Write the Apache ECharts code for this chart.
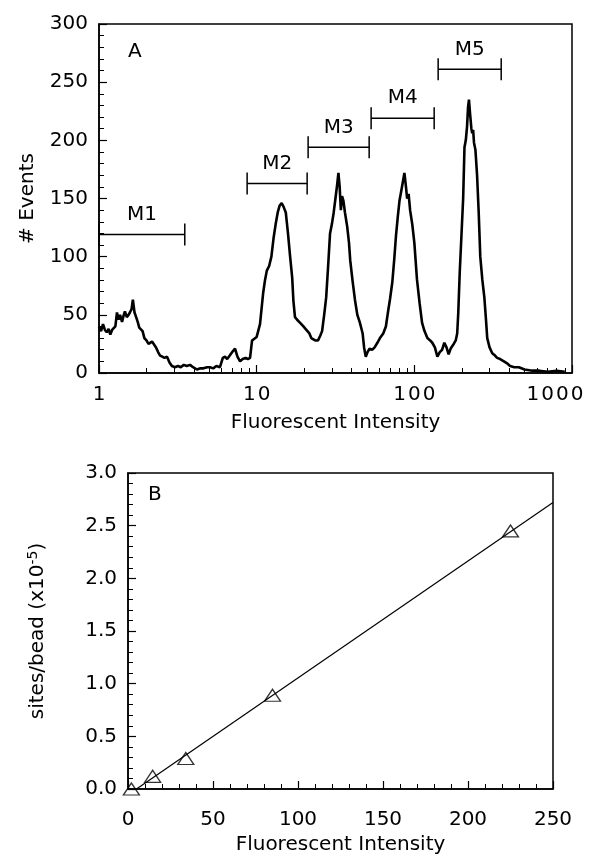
<!DOCTYPE html>
<html>
<head>
<meta charset="utf-8">
<script src="https://cdn.jsdelivr.net/npm/echarts@6/dist/echarts.min.js"></script>
<style>
html,body{margin:0;padding:0;background:#fff;}
#chart{width:592px;height:859px;}
</style>
</head>
<body>
<div id="chart"></div>
<script>
// ---- Panel A: flow cytometry histogram (log x) ----
const histIntensity = [
  1.00,1.03,1.06,1.09,1.12,1.15,1.18,1.21,1.24,1.27,1.30,1.33,1.36,1.40,1.43,1.46,1.50,1.54,1.57,1.61,1.64,1.68,1.72,1.76,1.80,1.84,1.89,1.94,2.00,2.06,2.11,2.17,2.23,2.30,2.37,2.44,2.52,2.60,2.70,2.80,2.90,3.03,3.17,3.30,3.45,3.60,3.78,3.95,4.18,4.40,4.60,4.85,5.06,5.30,5.55,5.85,6.10,6.30,6.50,6.75,7.00,7.29,7.55,7.85,8.15,8.50,8.80,9.08,9.35,9.60,10.0,10.5,11.0,11.3,11.6,12.0,12.4,12.8,13.2,13.6,14.0,14.4,14.8,15.3,15.8,16.3,16.8,17.1,17.5,18.0,18.6,19.2,19.8,20.4,21.0,21.6,22.2,22.8,23.5,24.5,25.3,26.0,26.8,27.6,28.4,29.2,30.0,30.8,31.6,32.4,33.0,33.6,34.2,34.8,35.5,36.3,37.5,38.5,39.2,40.5,42.0,43.5,45.0,46.2,47.0,48.0,49.2,50.5,52.0,54.0,56.0,58.3,60.5,63.5,66.0,68.0,70.2,72.5,74.5,76.5,78.5,80.5,82.5,84.5,86.5,88.5,90.0,92.0,94.0,97.0,100,104,108,112,116,121,126,130,135,140,145,150,155,160,165,170,176,183,187,190,194,198,204,208,212,216,219,222,226,230,233,236,239,244,250,256,262,270,278,285,290,300,312,325,335,350,370,390,405,430,460,500,560,620,700,800,900
];
const histEvents = [
  40,36,42,37,35,38,33,37,36,40,52,46,50,44,49,53,48,50,52,55,63,52,48,44,39,38,36,30,28,25,24,27,26,22,18,15,14,13,14,9,6,5,6,5,7,6,7,5,3,4,4,5,5,4,6,5,13,14,12,15,18,21,14,10,12,13,12,13,28,27,31,42,69,80,88,92,100,116,128,138,144,146,143,138,120,100,82,62,48,46,44,42,40,38,36,34,30,29,28,28,32,36,50,65,92,120,128,138,150,162,172,160,140,152,148,138,126,112,97,80,63,50,44,38,34,22,14,18,21,20,22,26,30,34,40,52,64,78,97,118,134,148,156,164,172,160,150,154,140,128,112,80,60,43,36,30,28,26,22,14,18,20,26,22,16,21,24,28,34,52,86,112,150,194,200,212,228,235,222,210,206,209,198,192,170,138,100,80,65,45,30,22,17,15,13,12,10,8,6,5,5,3,2,2,1,2,1,1,1
];
const histXTicks = [1, 10, 100, 1000];
// gate markers M1..M5: [left, right, events level]
const markerNames = ['M1', 'M2', 'M3', 'M4', 'M5'];
const markerLeft  = [1.0, 8.7, 21.2, 53.2, 141.6];
const markerRight = [3.5, 20.9, 51.7, 133.6, 355.6];
const markerLevel = [119, 163, 194, 219, 261];

// ---- Panel B: calibration ----
const beadIntensity = [2, 14.5, 34, 85, 225];
const beadSites = [0.0, 0.12, 0.29, 0.89, 2.45];
const fitIntensity = [5, 250];
const fitSites = [0.0, 2.72];

const FONT = '"DejaVu Sans", Verdana, sans-serif';
const chart = echarts.init(document.getElementById('chart'), null, {renderer: 'canvas'});

const markerData = markerNames.map((n, i) => [markerLeft[i], markerRight[i], markerLevel[i]]);
const histData = histIntensity.map((x, i) => [x, histEvents[i]]);
const beadData = beadIntensity.map((x, i) => [x, beadSites[i]]);
const fitData = fitIntensity.map((x, i) => [x, fitSites[i]]);

const axisLineStyle = {lineStyle: {color: '#000', width: 1.5}};
const labelStyle = {color: '#000', fontFamily: FONT, fontSize: 20};
const nameStyle = {color: '#000', fontFamily: FONT, fontSize: 20};

const option = {
  animation: false,
  backgroundColor: '#fff',
  grid: [
    {left: 99, right: 20, top: 24, bottom: 486, show: true, borderColor: '#000', borderWidth: 1.5, backgroundColor: 'transparent'},
    {left: 128, right: 39, top: 473, bottom: 70, show: true, borderColor: '#000', borderWidth: 1.5, backgroundColor: 'transparent'}
  ],
  xAxis: [
    {
      type: 'log', logBase: 10, gridIndex: 0, min: 1, max: 1000,
      name: 'Fluorescent Intensity', nameLocation: 'middle', nameGap: 40, nameTextStyle: nameStyle,
      axisLine: axisLineStyle,
      axisTick: {inside: true, length: 8, lineStyle: {color: '#000', width: 1.2}},
      minorTick: {show: true, splitNumber: 9, length: 5, lineStyle: {color: '#000', width: 1}},
      splitLine: {show: false}, minorSplitLine: {show: false},
      axisLabel: Object.assign({}, labelStyle, {
        margin: 12, showMinLabel: true, showMaxLabel: true,
        formatter: function (v) {
          const s = String(Math.round(v)).split('').join('\u200a');
          return Math.round(v) === histXTicks[histXTicks.length - 1] ? '{last|' + s + '}' : s;
        },
        rich: {last: {fontFamily: FONT, fontSize: 20, color: '#000', padding: [0, 34, 0, 0]}}
      })
    },
    {
      type: 'value', gridIndex: 1, min: 0, max: 250, interval: 50,
      name: 'Fluorescent Intensity', nameLocation: 'middle', nameGap: 46, nameTextStyle: nameStyle,
      axisLine: axisLineStyle,
      axisTick: {inside: true, length: 8, lineStyle: {color: '#000', width: 1.2}},
      minorTick: {show: true, splitNumber: 5, length: 5, lineStyle: {color: '#000', width: 1}},
      splitLine: {show: false},
      axisLabel: Object.assign({}, labelStyle, {margin: 21})
    }
  ],
  yAxis: [
    {
      type: 'value', gridIndex: 0, min: 0, max: 300, interval: 50,
      name: '# Events', nameLocation: 'middle', nameGap: 61, nameTextStyle: nameStyle,
      axisLine: axisLineStyle,
      axisTick: {inside: true, length: 8, lineStyle: {color: '#000', width: 1.2}},
      minorTick: {show: true, splitNumber: 5, length: 5, lineStyle: {color: '#000', width: 1}},
      splitLine: {show: false},
      axisLabel: Object.assign({}, labelStyle, {margin: 11})
    },
    {
      type: 'value', gridIndex: 1, min: 0, max: 3, interval: 0.5,
      name: 'sites/bead (x10{sup|-5})', nameLocation: 'middle', nameGap: 78,
      nameTextStyle: Object.assign({}, nameStyle, {
        rich: {sup: {fontFamily: FONT, fontSize: 14, color: '#000', padding: [0, 0, 10, 0]}}
      }),
      axisLine: axisLineStyle,
      axisTick: {inside: true, length: 8, lineStyle: {color: '#000', width: 1.2}},
      minorTick: {show: true, splitNumber: 5, length: 5, lineStyle: {color: '#000', width: 1}},
      splitLine: {show: false},
      axisLabel: Object.assign({}, labelStyle, {margin: 11, formatter: v => v.toFixed(1)})
    }
  ],
  graphic: [
    {type: 'text', left: 128, top: 42, style: {text: 'A', font: '20px ' + FONT, fill: '#000'}},
    {type: 'text', left: 148, top: 485, style: {text: 'B', font: '20px ' + FONT, fill: '#000'}}
  ],
  series: [
    {
      type: 'line', xAxisIndex: 0, yAxisIndex: 0, data: histData,
      showSymbol: false, symbol: 'none', clip: true,
      lineStyle: {color: '#000', width: 2.6}
    },
    {
      type: 'custom', xAxisIndex: 0, yAxisIndex: 0, data: markerData,
      encode: {x: [0, 1], y: 2},
      renderItem: function (params, api) {
        const l = api.coord([api.value(0), api.value(2)]);
        const r = api.coord([api.value(1), api.value(2)]);
        const st = {stroke: '#000', lineWidth: 1.5};
        return {
          type: 'group',
          children: [
            {type: 'line', shape: {x1: l[0], y1: l[1], x2: r[0], y2: r[1]}, style: st},
            {type: 'line', shape: {x1: l[0], y1: l[1] - 11, x2: l[0], y2: l[1] + 11}, style: st},
            {type: 'line', shape: {x1: r[0], y1: r[1] - 11, x2: r[0], y2: r[1] + 11}, style: st},
            {type: 'text', style: {text: markerNames[params.dataIndex], x: (l[0] + r[0]) / 2, y: l[1] - 20,
              align: 'center', verticalAlign: 'middle', font: '20px ' + FONT, fill: '#000'}}
          ]
        };
      }
    },
    {
      type: 'line', xAxisIndex: 1, yAxisIndex: 1, data: fitData,
      showSymbol: false, symbol: 'none',
      lineStyle: {color: '#000', width: 1.2}
    },
    {
      type: 'scatter', xAxisIndex: 1, yAxisIndex: 1, data: beadData,
      symbol: 'triangle', symbolSize: [16, 12], clip: false,
      itemStyle: {color: 'rgba(0,0,0,0)', borderColor: '#000', borderWidth: 1.3}
    }
  ]
};
chart.setOption(option);
</script>
</body>
</html>
